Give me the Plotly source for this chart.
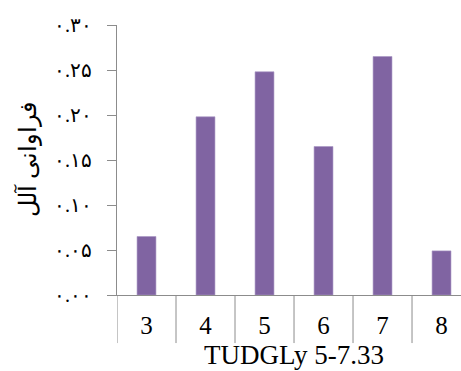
import plotly.graph_objects as go

# Allele frequencies for TUDGLy 5-7.33 repeat classes
categories = ["3", "4", "5", "6", "7", "8"]
frequencies = [0.065, 0.198, 0.248, 0.165, 0.265, 0.049]

# y-axis ticks written with Persian digits
tick_values = [0.00, 0.05, 0.10, 0.15, 0.20, 0.25, 0.30]
tick_labels = ["۰.۰۰", "۰.۰۵", "۰.۱۰", "۰.۱۵", "۰.۲۰", "۰.۲۵", "۰.۳۰"]

y_title = "فراوانی آلل"
x_title = "TUDGLy 5-7.33"

AXIS = "#8c8c8c"
BAR = "#8064A2"
SERIF = "Times New Roman, Liberation Serif, serif"

fig = go.Figure(
    go.Bar(
        x=categories,
        y=frequencies,
        width=0.32,
        marker=dict(color=BAR, line=dict(color="#a896c4", width=0.6)),
    )
)

# table-style divider lines below the category axis
n = len(categories)
for i in range(n):
    fig.add_shape(
        type="line", xref="x", yref="paper",
        x0=i - 0.5, x1=i - 0.5, y0=0, y1=-0.178,
        line=dict(color=AXIS, width=1),
    )

# x-axis title centred under the full category table
fig.add_annotation(
    text=x_title, xref="x", yref="paper",
    x=(n - 1) / 2, y=-0.224, xanchor="center", yanchor="middle",
    showarrow=False, font=dict(size=27, family=SERIF, color="black"),
)

fig.update_layout(
    width=461,
    height=371,
    margin=dict(l=117, r=0, t=25, b=76),
    paper_bgcolor="white",
    plot_bgcolor="white",
    showlegend=False,
    font=dict(family=SERIF, color="black"),
    xaxis=dict(
        type="category",
        range=[-0.5, 5.33],
        automargin=False,
        showline=True,
        linecolor=AXIS,
        linewidth=1,
        ticks="",
        showgrid=False,
        tickfont=dict(size=25, family=SERIF),
        ticklabelstandoff=8,
    ),
    yaxis=dict(
        range=[0, 0.30],
        automargin=False,
        tickvals=tick_values,
        ticktext=tick_labels,
        showline=True,
        linecolor=AXIS,
        linewidth=1,
        ticks="outside",
        ticklen=9,
        tickcolor=AXIS,
        showgrid=False,
        zeroline=False,
        tickfont=dict(size=20, family=SERIF),
        ticklabelstandoff=11,
        title=dict(text=y_title, font=dict(size=24, family=SERIF), standoff=10),
    ),
)

fig.write_html("out.html")
